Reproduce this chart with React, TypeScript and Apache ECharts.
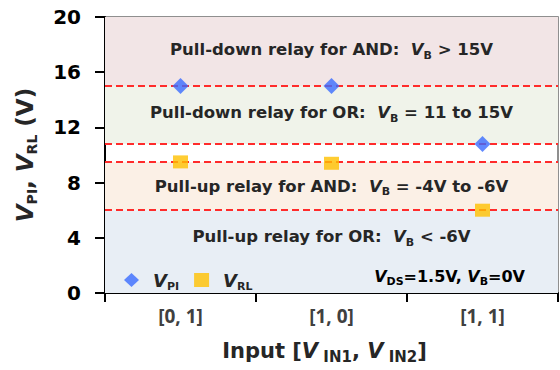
import React, { useEffect, useRef } from "react";
import * as echarts from "echarts";

const categories = ["[0, 1]", "[1, 0]", "[1, 1]"];
const vPI = [15, 15, 10.8];
const vRL = [9.5, 9.4, 6];
const thresholds = [15, 10.8, 9.5, 6];
const regionFrom = [15, 10.8, 6, 0];
const regionTo = [20, 15, 9.5, 6];
const regionText = [
  "{b|Pull-down relay for AND:  }{i|V}{s|B}{b| > 15V}",
  "{b|Pull-down relay for OR:  }{i|V}{s|B}{b| = 11 to 15V}",
  "{b|Pull-up relay for AND:  }{i|V}{s|B}{b| = -4V to -6V}",
  "{b|Pull-up relay for OR:  }{i|V}{s|B}{b| < -6V}",
];
const regionColors = ["#F2E5E6", "#F0F3EA", "#FBF0E6", "#E8EEF5"];
const regionOffsets = [-2, -2, 0, -15];
const yTicks = { min: 0, max: 20, interval: 4 };

const FONT = "'Open Sans', 'DejaVu Sans', sans-serif";
const WIDE = "'DejaVu Sans', sans-serif";
const TXT = "#262626";

const rich = (family: string, size: number, sub: number) => ({
  b: { fontFamily: family, fontWeight: "bold", fontSize: size, color: TXT, lineHeight: size + 6 },
  i: { fontFamily: family, fontWeight: "bold", fontStyle: "italic", fontSize: size, color: TXT, lineHeight: size + 6 },
  s: { fontFamily: family, fontWeight: "bold", fontSize: sub, color: TXT, lineHeight: sub + 2, verticalAlign: "bottom" },
});

export default function App() {
  const ref = useRef<HTMLDivElement>(null);
  useEffect(() => {
    if (!ref.current) return;
    const chart = echarts.init(ref.current, null, { renderer: "svg" });
    const option: any = {
      animation: false,
      backgroundColor: "#ffffff",
      grid: {
        left: 105,
        right: 2,
        top: 17,
        bottom: 77,
        show: true,
        borderColor: "#6b6b6b",
        borderWidth: 1.5,
        backgroundColor: "transparent",
      },
      legend: {
        left: 119,
        top: 266,
        data: [
          { name: "VPI", icon: "diamond" },
          { name: "VRL", icon: "rect" },
        ],
        itemWidth: 15,
        itemHeight: 14,
        itemGap: 15,
        formatter: (n: string) => (n === "VPI" ? "{i|V}{s|PI}" : "{i|V}{s|RL}"),
        textStyle: {
          rich: {
            i: { fontFamily: WIDE, fontWeight: "bold", fontStyle: "italic", fontSize: 18, color: TXT, lineHeight: 24, padding: [0, 0, 0, 9] },
            s: { fontFamily: WIDE, fontWeight: "bold", fontSize: 11, color: TXT, lineHeight: 12, verticalAlign: "bottom" },
          },
        },
      },
      xAxis: {
        type: "category",
        data: categories,
        boundaryGap: true,
        axisLine: { show: true, lineStyle: { color: "#000", width: 2 } },
        axisTick: { show: true, length: 9, lineStyle: { color: "#000", width: 2 } },
        axisLabel: { fontFamily: FONT, fontWeight: "bold", fontSize: 19, color: "#404040", margin: 13 },
        splitLine: { show: false },
        name: "{b|Input [}{i|V}{s| IN1}{b|, }{i|V}{s| IN2}{b|]}",
        nameLocation: "middle",
        nameGap: 44,
        nameTextStyle: { rich: rich(WIDE, 21, 15), padding: [0, 14, 0, 0] },
      },
      yAxis: {
        type: "value",
        min: yTicks.min,
        max: yTicks.max,
        interval: yTicks.interval,
        axisLine: { show: true, lineStyle: { color: "#000", width: 2 } },
        axisTick: { show: true, length: 10, lineStyle: { color: "#000", width: 2 } },
        axisLabel: { fontFamily: WIDE, fontWeight: "bold", fontSize: 20, color: "#000", margin: 24 },
        splitLine: { show: false },
        name: "{i|V}{s|PI}{b|, }{i|V}{s|RL}{b| (V)}",
        nameLocation: "middle",
        nameRotate: 90,
        nameGap: 66,
        nameTextStyle: { rich: rich(WIDE, 23, 14) },
      },
      graphic: [
        {
          type: "text",
          right: 35,
          top: 268,
          z: 100,
          style: {
            text: "{i|V}{s|DS}{b|=1.5V, }{i|V}{s|B}{b|=0V}",
            rich: rich(WIDE, 16, 11),
          },
        },
      ],
      series: [
        {
          name: "bands",
          type: "scatter",
          data: [],
          z: 1,
          silent: true,
          markArea: {
            silent: true,
            data: regionFrom.map((f, k) => [
              {
                yAxis: f,
                itemStyle: { color: regionColors[k] },
                label: {
                  show: true,
                  position: "inside",
                  offset: [0, regionOffsets[k]],
                  formatter: regionText[k],
                  rich: rich(WIDE, 16.5, 11),
                },
              },
              { yAxis: regionTo[k] },
            ]),
          },
          markLine: {
            silent: true,
            symbol: "none",
            label: { show: false },
            lineStyle: { color: "#FF2B2B", width: 2, type: [7, 4] },
            data: thresholds.map((t) => ({ yAxis: t })),
          },
        },
        {
          name: "VPI",
          type: "scatter",
          symbol: "diamond",
          symbolSize: [16, 16],
          itemStyle: { color: "#3A6BFF" },
          z: 10,
          data: vPI,
        },
        {
          name: "VRL",
          type: "scatter",
          symbol: "rect",
          symbolSize: [15, 13],
          itemStyle: { color: "#FFC000" },
          z: 10,
          data: vRL,
        },
      ],
    };
    chart.setOption(option);
    return () => chart.dispose();
  }, []);
  return (
    <div
      ref={ref}
      style={{ position: "fixed", left: 0, top: 0, width: 560, height: 370 }}
    />
  );
}
